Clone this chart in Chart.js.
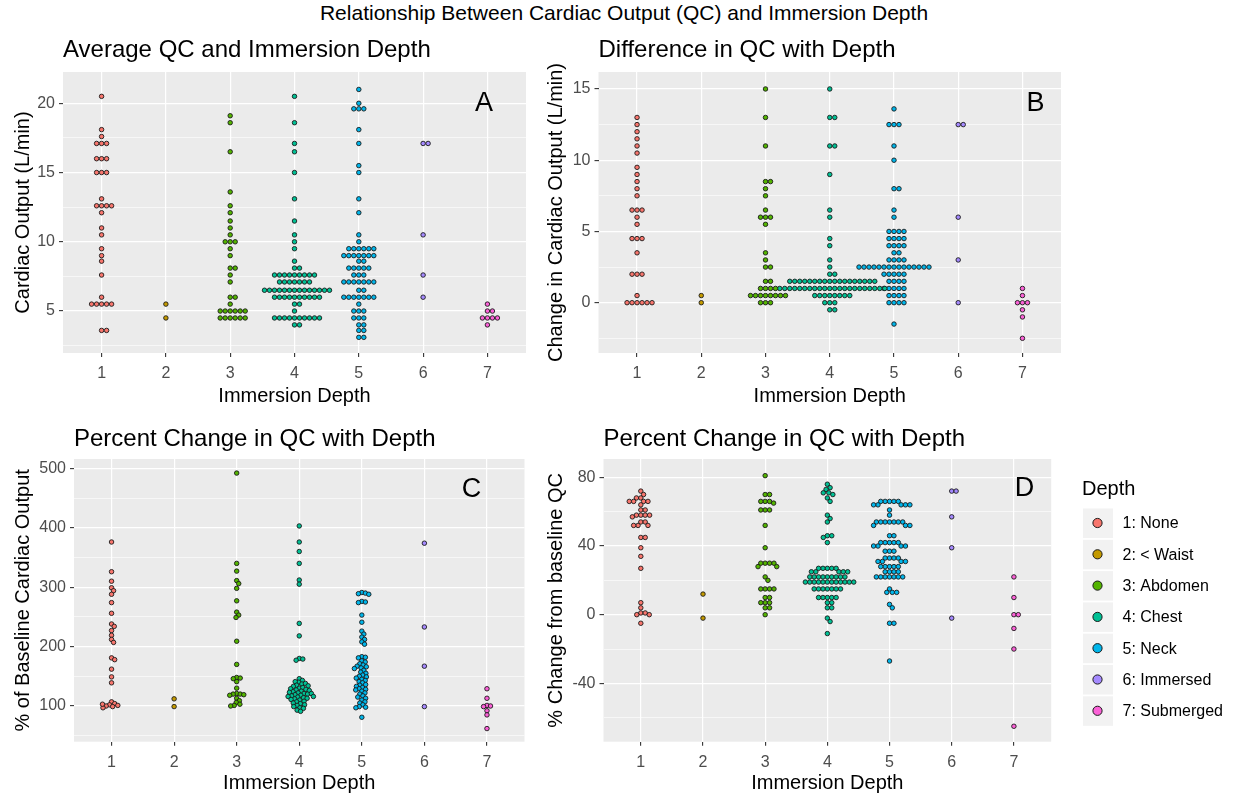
<!DOCTYPE html>
<html>
<head>
<meta charset="utf-8">
<title>Relationship Between Cardiac Output (QC) and Immersion Depth</title>
<script src="https://cdn.jsdelivr.net/npm/chart.js@4.4.1/dist/chart.umd.min.js"></script>
<style>
  body { margin: 0; background: #fff; width: 1239px; height: 796px; position: relative; overflow: hidden;
         font-family: "Liberation Sans", Arial, sans-serif; }
  #mainTitle { position: absolute; left: 0; top: 1px; width: 1248px; text-align: center;
               font-size: 21px; line-height: 24px; color: #000; }
  canvas { position: absolute; }
</style>
</head>
<body>
<div id="mainTitle">Relationship Between Cardiac Output (QC) and Immersion Depth</div>
<canvas id="chartA" width="545" height="380" style="left:0px;top:30px"></canvas>
<canvas id="chartB" width="545" height="380" style="left:535px;top:30px"></canvas>
<canvas id="chartC" width="545" height="376" style="left:0px;top:420px"></canvas>
<canvas id="chartD" width="704" height="376" style="left:535px;top:420px"></canvas>
<script>
// categories
const depths = [1, 2, 3, 4, 5, 6, 7];
const depthLabels = ['1: None', '2: < Waist', '3: Abdomen', '4: Chest', '5: Neck', '6: Immersed', '7: Submerged'];
const depthColors = ['#F8766D', '#C49A00', '#53B400', '#00C094', '#00B6EB', '#A58AFF', '#FB61D7'];

// A: average cardiac output (L/min), one list per depth
const avgQC = [
  [20.5, 18.1, 17.6, 17.1, 17.1, 17.1, 16, 16, 16, 15, 15, 15, 13.1, 12.6, 12.6, 12.6, 12.6, 12.1, 11, 10.5,
   9.5, 9, 8.6, 7.6, 6, 5.5, 5.5, 5.5, 5.5, 5.5, 3.6, 3.6],
  [5.5, 4.5],
  [19.1, 18.6, 16.5, 13.6, 12.6, 12.1, 11.5, 11, 10.5, 10, 10, 10, 9.5, 9, 8.1, 8.1, 7.6, 7.1, 6, 6, 5.5,
   5, 5, 5, 5, 5, 5, 4.5, 4.5, 4.5, 4.5, 4.5, 4.5],
  [20.5, 18.6, 17.1, 16.5, 15, 13.1, 11.5, 10.5, 10, 9.5, 8.6, 8.1, 8.1,
   7.6, 7.6, 7.6, 7.6, 7.6, 7.6, 7.6, 7.6, 7.6,
   7.1, 7.1, 7.1, 7.1, 7.1, 7.1, 7.1,
   6.5, 6.5, 6.5, 6.5, 6.5, 6.5, 6.5, 6.5, 6.5, 6.5, 6.5, 6.5, 6.5, 6.5,
   6, 6, 6, 6, 6, 6, 6, 6, 6, 6, 5.5, 5.5, 5,
   4.5, 4.5, 4.5, 4.5, 4.5, 4.5, 4.5, 4.5, 4.5, 4.5, 4, 4],
  [21, 20, 19.6, 19.6, 19.6, 18.1, 17.1, 15.5, 15, 13.1, 12.1, 10.5, 10,
   9.5, 9.5, 9.5, 9.5, 9.5, 9.5, 9, 9, 9, 9, 9, 9, 9, 8.6, 8.6, 8.1, 8.1, 8.1, 8.1, 8.1, 7.6, 7.6, 7.6,
   7.1, 7.1, 7.1, 7.1, 7.1, 7.1, 7.1, 6.5, 6.5, 6, 6, 6, 6, 6, 6, 6, 5.5, 5, 5, 5, 4.5, 4.5, 4.5,
   4, 4, 3.6, 3.6, 3.1, 3.1],
  [17.1, 17.1, 10.5, 7.6, 6],
  [5.5, 5, 5, 4.5, 4.5, 4.5, 4.5, 4]
];

// B: change in cardiac output (L/min)
const diffQC = [
  [13, 12.5, 12, 11.5, 11, 10.5, 9.5, 9, 8.5, 8, 7.5, 6.5, 6.5, 6.5, 6, 5.5, 4.5, 4.5, 4.5, 3.5, 2, 2, 2,
   0.5, 0, 0, 0, 0, 0, 0],
  [0.5, 0],
  [15, 13, 11, 8.5, 8.5, 8, 7.5, 6.5, 6, 6, 6, 5.5, 3.5, 3, 2.5, 2.5, 1.5, 1.5, 1, 1, 1, 1,
   0.5, 0.5, 0.5, 0.5, 0.5, 0.5, 0.5, 0.5, 0, 0, 0],
  [15, 13, 13, 11, 11, 9, 6.5, 6, 4.5, 4, 3, 2.5, 2, 2,
   1.5, 1.5, 1.5, 1.5, 1.5, 1.5, 1.5, 1.5, 1.5, 1.5, 1.5, 1.5, 1.5, 1.5, 1.5, 1.5, 1.5, 1.5,
   1, 1, 1, 1, 1, 1, 1, 1, 1, 1, 1, 1, 1, 1, 1, 1, 1, 1, 1, 1, 1, 1,
   0.5, 0.5, 0.5, 0.5, 0.5, 0.5, 0.5, 0.5, 0, 0, 0, -0.5, -0.5],
  [13.6, 12.5, 12.5, 12.5, 11, 10, 8, 8, 6.5, 6, 5, 5, 5, 5, 4.5, 4.5, 4.5, 4.5, 4, 4, 4, 4, 3.5, 3.5,
   3, 3, 3, 3, 2.5, 2.5, 2.5, 2.5, 2.5, 2.5, 2.5, 2.5, 2.5, 2.5, 2.5, 2.5, 2.5, 2.5, 2.5,
   2, 2, 2, 2, 2, 1.5, 1.5, 1.5, 1.5, 1, 1, 1, 1, 1, 0.5, 0.5, 0.5, 0.5, 0, 0, 0, 0, -1.5],
  [12.5, 12.5, 6, 3, 0],
  [1, 0.5, 0, 0, 0, -0.5, -1, -2.5]
];

// C: % of baseline cardiac output
const pctBaseline = [
  [376, 326, 310, 299, 294, 288, 274, 256, 238, 234, 227, 219, 212, 207, 181, 178, 162, 149, 139,
   107, 104, 102, 100, 99, 101, 97, 103],
  [112, 99],
  [492, 340, 327, 311, 306, 298, 277, 258, 253, 249, 209, 170, 148, 147, 146, 141, 130, 121, 120, 120,
   119, 118, 113, 109, 106, 103, 101, 100],
  [403, 376, 360, 340, 312, 305, 239, 218, 180, 179, 177,
   146, 143, 140, 141, 137, 138, 135, 133, 134, 130, 131, 129, 127, 128, 125, 126, 124, 122, 123, 121,
   120, 119, 121, 118, 117, 116, 115, 116, 114, 112, 113, 110, 111, 108, 107, 105, 104, 101, 102, 99,
   97, 96, 93, 91],
  [291, 290, 289, 288, 276, 275, 274, 253, 241, 226, 221, 216, 212, 208, 204, 183, 182, 181, 176, 174,
   171, 169, 167, 166, 164, 163, 160, 157, 155, 152, 150, 149, 147, 145, 143, 141, 139, 136, 135, 133,
   131, 129, 128, 127, 125, 122, 120, 117, 115, 113, 110, 107, 105, 102, 99, 98, 97, 81],
  [374, 233, 167, 99],
  [129, 113, 101, 100, 99, 92, 85, 62]
];

// D: % change from baseline QC
const pctChange = [
  [72, 70, 68, 68, 66, 66, 66, 66, 64, 61, 61, 58, 58, 58, 58, 57, 54, 54, 52, 52, 52, 45, 45, 39, 34, 27,
   7, 4, 1, 1, 0, 0, -5],
  [12, -2],
  [81, 70, 70, 66, 66, 66, 65, 61, 61, 61, 52, 39, 30, 30, 30, 30, 28, 28, 22, 20, 15, 15, 15, 15,
   10, 10, 7, 7, 7, 4, 4, 0],
  [76, 74, 73, 71, 71, 70, 68, 66, 58, 56, 54, 46, 46, 45, 42, 27, 27, 27, 27, 27, 25, 25, 25, 25, 25,
   22, 22, 22, 22, 22, 22, 22, 22, 22, 19, 19, 19, 19, 19, 19, 19, 19, 19, 19, 19, 19,
   15, 15, 15, 15, 15, 15, 15, 10, 10, 10, 10, 10, 7, 7, 4, 4, -2, -4, -11],
  [66, 66, 66, 66, 66, 64, 64, 64, 64, 64, 61, 58, 54, 54, 54, 54, 54, 54, 54, 52, 52, 52, 46, 46,
   42, 42, 42, 42, 42, 40, 40, 40, 40, 37, 37, 37, 33, 33, 33, 33, 31, 31, 31, 31, 28, 28, 28, 28, 28,
   25, 25, 25, 25, 22, 22, 22, 22, 22, 22, 22, 15, 13, 13, 13, 6, 4, -5, -5, -27],
  [72, 72, 57, 39, -2],
  [22, 10, 0, 0, -8, -20, -65]
];

// y tick marks (labelled) and minor grid lines
const avgTicks = [5, 10, 15, 20], avgMinor = [2.5, 7.5, 12.5, 17.5];
const diffTicks = [0, 5, 10, 15], diffMinor = [-2.5, 2.5, 7.5, 12.5];
const baseTicks = [100, 200, 300, 400, 500], baseMinor = [50, 150, 250, 350, 450];
const chgTicks = [-40, 0, 40, 80], chgMinor = [-60, -20, 20, 60];

Chart.defaults.font.family = '"Liberation Sans", Arial, sans-serif';

// simple beeswarm: each dot goes to the free spot nearest the category centre
function swarmOffsets(values, pxPerY, pxPerX, gap) {
  const placed = [];
  return values.map(v => {
    const y = v * pxPerY;
    const cands = [0];
    placed.forEach(p => {
      const dy = Math.abs(p.y - y);
      if (dy < gap) {
        const dx = Math.sqrt(gap * gap - dy * dy);
        cands.push(p.x + dx, p.x - dx);
      }
    });
    cands.sort((a, b) => Math.abs(a) - Math.abs(b));
    const x = cands.find(c => placed.every(p => (p.x - c) ** 2 + (p.y - y) ** 2 >= gap * gap - 0.01));
    placed.push({ x, y });
    return x / pxPerX;
  });
}

const panelDecor = {
  id: 'panelDecor',
  beforeDraw(chart, args, o) {
    const { ctx, chartArea: a } = chart;
    ctx.save();
    ctx.fillStyle = '#EBEBEB';
    ctx.fillRect(a.left, a.top, a.right - a.left, a.bottom - a.top);
    ctx.restore();
  },
  afterDraw(chart, args, o) {
    const { ctx, chartArea: a } = chart;
    ctx.save();
    ctx.fillStyle = '#000';
    ctx.textBaseline = 'alphabetic';
    ctx.textAlign = 'left';
    ctx.font = '24px "Liberation Sans", Arial, sans-serif';
    ctx.fillText(o.title, a.left, o.titleY - o.oy);
    ctx.textAlign = 'center';
    ctx.font = '27px "Liberation Sans", Arial, sans-serif';
    ctx.fillText(o.letter, o.letterX - o.ox, o.letterY - o.oy);
    ctx.restore();
  }
};

const depthLegend = {
  id: 'depthLegend',
  afterDraw(chart, args, o) {
    if (!o.show) return;
    const ctx = chart.ctx;
    ctx.save();
    ctx.fillStyle = '#000';
    ctx.textAlign = 'left';
    ctx.textBaseline = 'alphabetic';
    ctx.font = '20px "Liberation Sans", Arial, sans-serif';
    ctx.fillText('Depth', 1082 - o.ox, 495 - o.oy);
    depthLabels.forEach((lab, i) => {
      const y0 = 508.5 + i * 31.3 - o.oy;
      ctx.fillStyle = '#F2F2F2';
      ctx.fillRect(1083 - o.ox, y0, 30, 29.5);
      ctx.beginPath();
      ctx.arc(1097.5 - o.ox, y0 + 14.5, 4.6, 0, Math.PI * 2);
      ctx.fillStyle = depthColors[i];
      ctx.fill();
      ctx.lineWidth = 1;
      ctx.strokeStyle = '#1a1a1a';
      ctx.stroke();
      ctx.fillStyle = '#000';
      ctx.textBaseline = 'middle';
      ctx.font = '16px "Liberation Sans", Arial, sans-serif';
      ctx.fillText(lab, 1122.5 - o.ox, y0 + 15.5);
    });
    ctx.restore();
  }
};

const panels = [
  { id: 'chartA', box: { left: 0, top: 30, width: 545, height: 380 }, plot: { left: 63, top: 72, right: 526, bottom: 353 },
    yMin: 1.97, yMax: 22.26, majors: avgTicks, minors: avgMinor, series: avgQC, gap: 5,
    yTitle: 'Cardiac Output (L/min)', yTitlePad: 11, xTitlePad: 2,
    title: 'Average QC and Immersion Depth', titleY: 57, letter: 'A', letterX: 484, letterY: 111 },
  { id: 'chartB', box: { left: 535, top: 30, width: 545, height: 380 }, plot: { left: 598.5, top: 72, right: 1061, bottom: 353 },
    yMin: -3.53, yMax: 16.19, majors: diffTicks, minors: diffMinor, series: diffQC, gap: 5,
    yTitle: 'Change in Cardiac Output (L/min)', yTitlePad: 9.5, xTitlePad: 2,
    title: 'Difference in QC with Depth', titleY: 57, letter: 'B', letterX: 1035.5, letterY: 111 },
  { id: 'chartC', box: { left: 0, top: 420, width: 545, height: 376 }, plot: { left: 74, top: 459, right: 524.5, bottom: 741.7 },
    yMin: 39.9, yMax: 515.7, majors: baseTicks, minors: baseMinor, series: pctBaseline, gap: 3.6,
    yTitle: '% of Baseline Cardiac Output', yTitlePad: 11, xTitlePad: 1,
    title: 'Percent Change in QC with Depth', titleY: 446, letter: 'C', letterX: 471.5, letterY: 497 },
  { id: 'chartD', box: { left: 535, top: 420, width: 704, height: 376 }, plot: { left: 603.5, top: 459, right: 1051.2, bottom: 741.7 },
    yMin: -74, yMax: 90.7, majors: chgTicks, minors: chgMinor, series: pctChange, gap: 4.4,
    yTitle: '% Change from baseline QC', yTitlePad: 9.5, xTitlePad: 1,
    title: 'Percent Change in QC with Depth', titleY: 446, letter: 'D', letterX: 1024.5, letterY: 496, legend: true }
];

panels.forEach(p => {
  const pxPerX = (p.plot.right - p.plot.left) / 7.2;
  const pxPerY = (p.plot.bottom - p.plot.top) / (p.yMax - p.yMin);
  const datasets = p.series.map((vals, i) => {
    const offs = swarmOffsets(vals, pxPerY, pxPerX, p.gap);
    return {
      label: depthLabels[i],
      data: vals.map((v, k) => ({ x: depths[i] + offs[k], y: v })),
      backgroundColor: depthColors[i],
      borderColor: '#1a1a1a',
      borderWidth: 0.9,
      pointRadius: 2.25,
      pointHoverRadius: 2.25
    };
  });
  const yGrid = [...p.minors, ...p.majors].sort((a, b) => a - b);
  const isMajor = v => p.majors.includes(v);

  new Chart(document.getElementById(p.id), {
    type: 'scatter',
    data: { datasets },
    plugins: [panelDecor, depthLegend],
    options: {
      responsive: false,
      animation: false,
      events: [],
      layout: {
        autoPadding: false,
        padding: { top: p.plot.top - p.box.top, right: p.box.left + p.box.width - p.plot.right, bottom: 0, left: 0 }
      },
      scales: {
        x: {
          type: 'linear', min: 0.4, max: 7.6,
          afterBuildTicks: s => { s.ticks = depths.map(v => ({ value: v })); },
          afterFit: s => { s.height = p.box.top + p.box.height - p.plot.bottom; },
          ticks: { autoSkip: false, maxRotation: 0, color: '#4D4D4D', font: { size: 16 }, padding: 7,
                   callback: v => String(v) },
          grid: { color: '#FFFFFF', lineWidth: 1.2, tickColor: '#333333', tickLength: 4, tickWidth: 1.1 },
          border: { display: false },
          title: { display: true, text: 'Immersion Depth', color: '#000', font: { size: 20 },
                   padding: { top: 0, bottom: p.xTitlePad } }
        },
        y: {
          type: 'linear', min: p.yMin, max: p.yMax,
          afterBuildTicks: s => { s.ticks = yGrid.map(v => ({ value: v })); },
          afterFit: s => { s.width = p.plot.left - p.box.left; },
          ticks: { autoSkip: false, color: '#4D4D4D', font: { size: 16 }, padding: 4,
                   callback: v => isMajor(v) ? String(v) : '' },
          grid: {
            color: '#FFFFFF',
            lineWidth: c => isMajor(c.tick.value) ? 1.2 : 0.6,
            tickColor: c => isMajor(c.tick.value) ? '#333333' : 'rgba(0,0,0,0)',
            tickLength: 4,
            tickWidth: 1.1
          },
          border: { display: false },
          title: { display: true, text: p.yTitle, color: '#000', font: { size: 20 },
                   padding: { top: p.yTitlePad, bottom: 0 } }
        }
      },
      plugins: {
        legend: { display: false },
        tooltip: { enabled: false },
        panelDecor: { title: p.title, titleY: p.titleY, letter: p.letter, letterX: p.letterX, letterY: p.letterY,
                      ox: p.box.left, oy: p.box.top },
        depthLegend: { show: !!p.legend, ox: p.box.left, oy: p.box.top }
      }
    }
  });
});
</script>
</body>
</html>
